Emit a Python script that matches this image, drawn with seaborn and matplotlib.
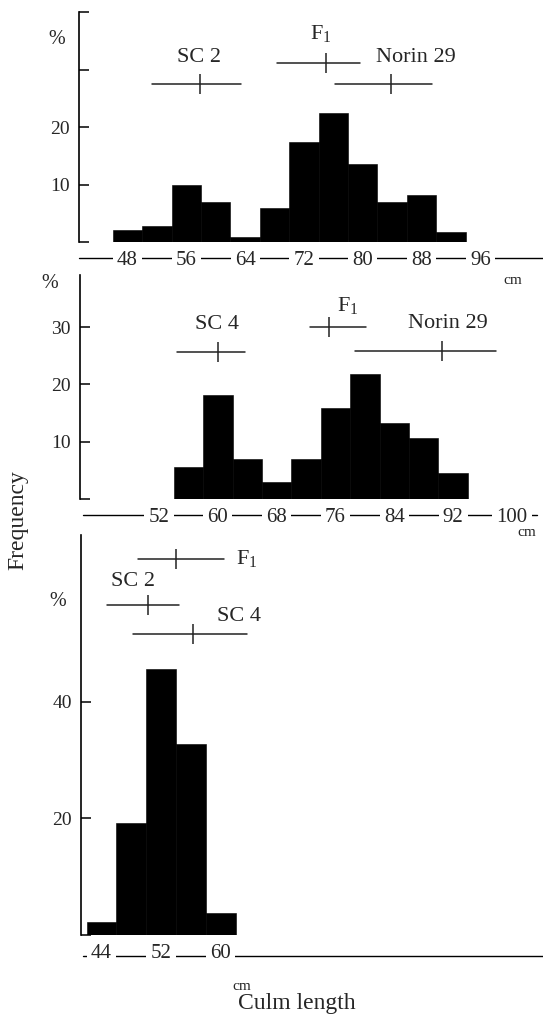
import numpy as np
import pandas as pd
import matplotlib
matplotlib.use("Agg")
import matplotlib.pyplot as plt
import seaborn as sns

# --- DATA ---
# top: SC 2 x Norin 29
top_bins = [48, 52, 56, 60, 64, 68, 72, 76, 80, 84, 88, 92]
top_freq = [2.1, 2.8, 10.0, 7.0, 0.9, 6.0, 17.4, 22.5, 13.5, 7.0, 8.1, 1.8]
top_xticks = [48, 56, 64, 72, 80, 88, 96]
top_names = ["SC 2", "F$_\\mathrm{1}$", "Norin 29"]
top_mean = [57.9, 75.0, 83.8]
top_low = [51.3, 68.3, 76.2]
top_high = [63.5, 79.6, 89.4]
top_level = [27.5, 31.2, 27.5]

# middle: SC 4 x Norin 29
mid_bins = [56, 60, 64, 68, 72, 76, 80, 84, 88, 92]
mid_freq = [5.5, 18.2, 6.9, 2.9, 7.0, 15.9, 21.8, 13.3, 10.6, 4.5]
mid_xticks = [52, 60, 68, 76, 84, 92, 100]
mid_names = ["SC 4", "F$_\\mathrm{1}$", "Norin 29"]
mid_mean = [60.0, 75.1, 90.5]
mid_low = [54.5, 72.5, 78.6]
mid_high = [63.7, 80.2, 97.9]
mid_level = [25.6, 30.1, 25.9]

# bottom: SC 2 x SC 4
bot_bins = [44, 48, 52, 56, 60]
bot_freq = [2.2, 19.2, 45.6, 32.8, 3.8]
bot_xticks = [44, 52, 60]
bot_names = ["F$_\\mathrm{1}$", "SC 2", "SC 4"]
bot_mean = [54.0, 50.2, 56.3]
bot_low = [48.9, 44.7, 48.2]
bot_high = [60.5, 54.4, 63.5]
bot_level = [64.5, 56.6, 51.7]

# --- STYLE ---
sns.set_style("white")
plt.rcParams["font.family"] = ["Liberation Serif", "DejaVu Serif"]
plt.rcParams["mathtext.fontset"] = "custom"
plt.rcParams["mathtext.rm"] = "Liberation Serif"
plt.rcParams["mathtext.it"] = "Liberation Serif:italic"

W, H = 543, 1014
fig = plt.figure(figsize=(W / 100, H / 100), dpi=100)


def px_axes(left, zero, top, right=543):
    return fig.add_axes([left / W, 1 - zero / H, (right - left) / W, (zero - top) / H])


def panel(ax, bins, freq, xticks, names, mean, low, high, level, xlim, ylim,
          yticks, ylabels, text_pos, line_span, line_y):
    df = pd.DataFrame({"length": bins, "freq": freq})
    sns.histplot(data=df, x="length", weights="freq", binwidth=4,
                 binrange=(min(bins) - 2, max(bins) + 2), ax=ax, color="black",
                 alpha=1, edgecolor="black", linewidth=0.4)
    ax.set_xlim(*xlim)
    ax.set_ylim(*ylim)
    ax.set_xlabel("")
    ax.set_ylabel("")
    for s in ["top", "right", "bottom"]:
        ax.spines[s].set_visible(False)
    ax.spines["left"].set_color("black")
    ax.spines["left"].set_linewidth(1.2)

    ax.set_yticks(yticks, labels=ylabels)
    ax.tick_params(axis="y", direction="in", length=7.5, width=1.1,
                   color="black", pad=6.5, labelsize=14, left=True)

    ax.set_xticks(xticks, labels=[str(t) for t in xticks])
    ax.tick_params(axis="x", length=0, pad=6.5, labelsize=15, bottom=True)
    for lbl in ax.get_xticklabels():
        lbl.set_bbox(dict(boxstyle="square,pad=0.2", facecolor="white",
                          edgecolor="none"))
    ax.plot(line_span, [line_y, line_y], transform=ax.transAxes, color="black",
            lw=1.0, clip_on=False, zorder=0.1)

    # mean and range of parents / F1
    for i in range(len(names)):
        ax.plot([low[i], high[i]], [level[i], level[i]], color="#222222", lw=1.1)
        ax.plot([mean[i]], [level[i]], marker="|", ms=14, mew=1.1,
                color="#222222")
        tx, ty, ha = text_pos[i]
        ax.text(tx, ty, names[i], ha=ha, va="center", fontsize=16)


ax1 = px_axes(79, 242, 12)
panel(ax1, top_bins, top_freq, top_xticks, top_names, top_mean, top_low,
      top_high, top_level, xlim=(41.4, 41.4 + 464 / 7.35), ylim=(0, 40),
      yticks=[0, 10, 20, 30, 40], ylabels=["", "10", "20", "", ""],
      text_pos=[(57.7, 32.1, "center"), (74.3, 36.3, "center"),
                (87.2, 32.1, "center")],
      line_span=[0.0, 1.0], line_y=-0.0696)

ax2 = px_axes(80, 499, 275)
panel(ax2, mid_bins, mid_freq, mid_xticks, mid_names, mid_mean, mid_low,
      mid_high, mid_level, xlim=(41.24, 41.24 + 463 / 7.35), ylim=(0, 39.1),
      yticks=[0, 10, 20, 30], ylabels=["", "10", "20", "30"],
      text_pos=[(59.9, 30.4, "center"), (77.7, 33.8, "center"),
                (91.3, 30.7, "center")],
      line_span=[0.0065, 0.987], line_y=-0.0714)

ax3 = px_axes(81, 935, 535)
panel(ax3, bot_bins, bot_freq, bot_xticks, bot_names, bot_mean, bot_low,
      bot_high, bot_level, xlim=(41.25, 41.25 + 462 / 7.45), ylim=(0, 68.6),
      yticks=[0, 20, 40], ylabels=["", "20", "40"],
      text_pos=[(62.1, 64.5, "left"), (48.2, 60.6, "center"),
                (62.4, 54.7, "center")],
      line_span=[0.004, 1.0], line_y=-0.0525)


def ftext(x, y, s, **kw):
    fig.text(x / W, 1 - y / H, s, ha="center", va="center", **kw)


for (x, y) in [(56.5, 39), (50, 283), (57.7, 601)]:
    ftext(x, y, "%", fontsize=14.5)
for (x, y) in [(513, 280), (527, 533), (242, 987)]:
    ftext(x, y, "cm", fontsize=11)
ftext(18, 520, "Frequency", fontsize=17, rotation=90)
ftext(297, 1004, "Culm length", fontsize=17)

plt.savefig("out.png", dpi=100)
